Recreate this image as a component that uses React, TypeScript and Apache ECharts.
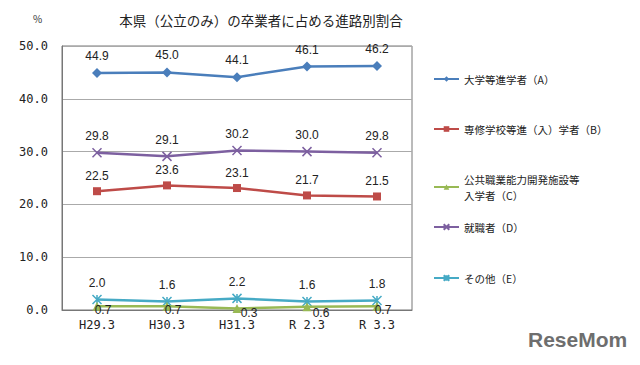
import React, { useEffect, useRef } from "react";
import * as echarts from "echarts";

const categories = ["H29.3", "H30.3", "H31.3", "R 2.3", "R 3.3"];
const seriesNames = [
  "大学等進学者（A）",
  "専修学校等進（入）学者（B）",
  "公共職業能力開発施設等入学者（C）",
  "就職者（D）",
  "その他（E）",
];
const valuesA = [44.9, 45.0, 44.1, 46.1, 46.2];
const valuesB = [22.5, 23.6, 23.1, 21.7, 21.5];
const valuesC = [0.7, 0.7, 0.3, 0.6, 0.7];
const valuesD = [29.8, 29.1, 30.2, 30.0, 29.8];
const valuesE = [2.0, 1.6, 2.2, 1.6, 1.8];
const yTicks = [0, 10, 20, 30, 40, 50];

const colors = ["#4a7ebb", "#be4b48", "#98b954", "#7d60a0", "#46aac5"];
const symbols = ["diamond", "rect", "triangle", "path://M0,0L10,10M10,0L0,10", "path://M0,0L10,10M10,0L0,10M5,0L5,10"];
const legendTops = [71, 121, 171, 219, 270];
const labelOffsetsC = [[6, 4], [6, 4], [12, 5], [14, 6], [6, 4]];

export default function App() {
  const ref = useRef<HTMLDivElement>(null);
  useEffect(() => {
    const chart = echarts.init(ref.current!, null, { renderer: "svg" });
    const data = [valuesA, valuesB, valuesC, valuesD, valuesE];
    const font = "'Noto Sans CJK JP', 'Noto Sans', sans-serif";
    const series = data.map((vals, i) => {
      const isCross = i >= 3;
      return {
        name: seriesNames[i],
        type: "line",
        data:
          i === 2
            ? vals.map((v, j) => ({ value: v, label: { offset: labelOffsetsC[j] } }))
            : vals,
        symbol: symbols[i],
        symbolSize: i === 1 ? 8 : i === 0 ? 10 : 9,
        lineStyle: { color: colors[i], width: 2.5 },
        itemStyle: isCross
          ? { color: colors[i], borderColor: colors[i], borderWidth: 1.5 }
          : { color: colors[i] },
        label: {
          show: true,
          position: i === 2 ? "inside" : "top",
          offset: i === 2 ? [8, 5] : [0, i === 0 ? -1 : 0],
          formatter: (p: any) => Number(p.value).toFixed(1),
          color: "#222",
          fontSize: 12,
          fontFamily: "'Liberation Sans', Arial, sans-serif",
        },
        z: 5 - i,
      };
    });
    const legends = seriesNames.map((n, i) => ({
      data: [n],
      left: 433,
      top: legendTops[i],
      orient: "vertical",
      padding: 0,
      itemWidth: 25,
      itemHeight: 7,
      itemGap: 0,
      textStyle: { fontSize: 10.5, color: "#222", fontFamily: font, lineHeight: 16 },
      formatter: (name: string) =>
        name === seriesNames[2] ? "公共職業能力開発施設等\n入学者（C）" : name,
    }));
    chart.setOption({
      animation: false,
      color: colors,
      title: {
        text: "本県（公立のみ）の卒業者に占める進路別割合",
        left: 256,
        textAlign: "center",
        top: 8,
        textStyle: { fontSize: 13.5, fontWeight: "normal", color: "#222", fontFamily: font },
      },
      graphic: [
        {
          type: "text",
          left: 33,
          top: 13,
          style: { text: "%", fontSize: 10, fill: "#333", fontFamily: font },
        },
        {
          type: "text",
          left: 528,
          top: 329,
          style: {
            text: "ReseMom",
            fontSize: 21,
            fontWeight: "bold",
            fill: "#6e6e6e",
            fontFamily: "'Liberation Sans', Arial, sans-serif",
          },
        },
      ],
      legend: legends,
      grid: {
        left: 62,
        right: 228,
        top: 46,
        bottom: 55,
        show: true,
        borderColor: "#777",
        borderWidth: 1,
      },
      xAxis: {
        type: "category",
        data: categories,
        boundaryGap: true,
        axisLine: { lineStyle: { color: "#777" } },
        axisTick: { show: false },
        axisLabel: {
          color: "#222",
          fontSize: 12,
          fontFamily: "'DejaVu Sans Mono', monospace",
          margin: 9,
        },
      },
      yAxis: {
        type: "value",
        min: yTicks[0],
        max: yTicks[yTicks.length - 1],
        interval: 10,
        axisLine: { show: true, lineStyle: { color: "#777" } },
        axisTick: { show: false },
        splitLine: { lineStyle: { color: "#aaa" } },
        axisLabel: {
          color: "#222",
          fontSize: 12,
          fontFamily: "'DejaVu Sans Mono', monospace",
          margin: 14,
          formatter: (v: number) => v.toFixed(1),
        },
      },
      series,
    });
    return () => chart.dispose();
  }, []);
  return (
    <div
      ref={ref}
      style={{ position: "absolute", left: 0, top: 0, width: 640, height: 365 }}
    />
  );
}
